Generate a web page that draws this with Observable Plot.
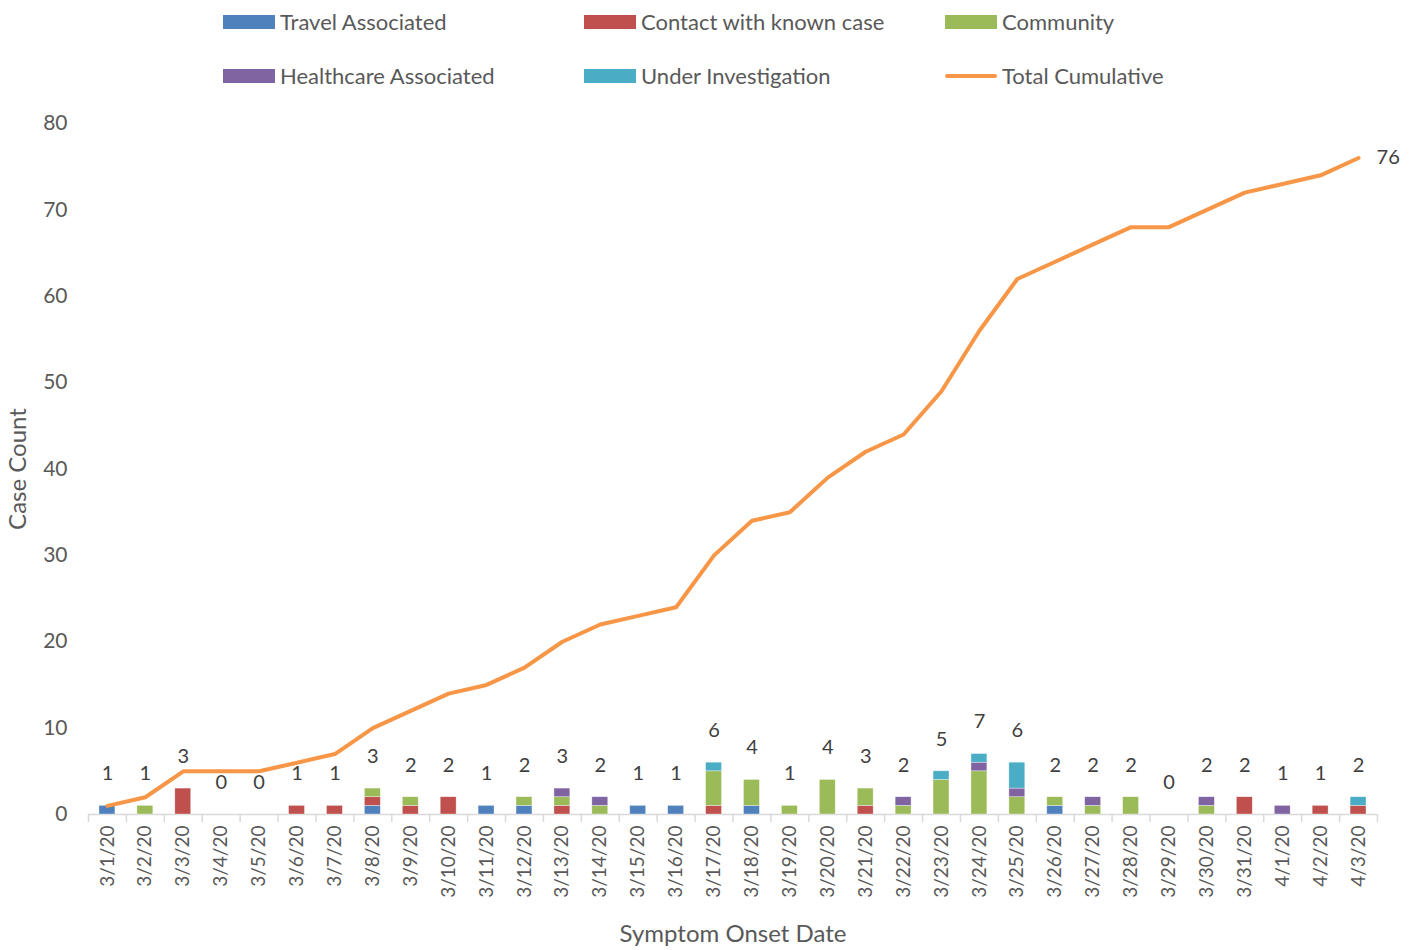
<!DOCTYPE html>
<html>
<head>
<meta charset="utf-8">
<script src="https://cdn.jsdelivr.net/npm/d3@7"></script>
<script src="https://cdn.jsdelivr.net/npm/@observablehq/plot@0.6"></script>
<style>
  body { margin: 0; background: #fff; font-family: Lato, "Open Sans", sans-serif; }
  #wrap { position: relative; width: 1417px; height: 950px; }
  #legend { position: relative; height: 100px; width: 1417px; }
  .item { position: absolute; display: flex; align-items: center; font-size: 22px; color: #595959; white-space: nowrap; }
  .sw { width: 52px; height: 14px; margin-right: 5px; }
  .ln { width: 52px; height: 4px; margin-right: 5px; border-radius: 2px; }
</style>
</head>
<body>
<div id="wrap">
  <div id="legend"></div>
  <div id="chart"></div>
</div>
<script>
const dates = ["3/1/20","3/2/20","3/3/20","3/4/20","3/5/20","3/6/20","3/7/20","3/8/20","3/9/20","3/10/20",
  "3/11/20","3/12/20","3/13/20","3/14/20","3/15/20","3/16/20","3/17/20","3/18/20","3/19/20","3/20/20",
  "3/21/20","3/22/20","3/23/20","3/24/20","3/25/20","3/26/20","3/27/20","3/28/20","3/29/20","3/30/20",
  "3/31/20","4/1/20","4/2/20","4/3/20"];
const travel     = [1,0,0,0,0,0,0,1,0,0, 1,1,0,0,1,1,0,1,0,0, 0,0,0,0,0,1,0,0,0,0, 0,0,0,0];
const contact    = [0,0,3,0,0,1,1,1,1,2, 0,0,1,0,0,0,1,0,0,0, 1,0,0,0,0,0,0,0,0,0, 2,0,1,1];
const community  = [0,1,0,0,0,0,0,1,1,0, 0,1,1,1,0,0,4,3,1,4, 2,1,4,5,2,1,1,2,0,1, 0,0,0,0];
const healthcare = [0,0,0,0,0,0,0,0,0,0, 0,0,1,1,0,0,0,0,0,0, 0,1,0,1,1,0,1,0,0,1, 0,1,0,0];
const underInv   = [0,0,0,0,0,0,0,0,0,0, 0,0,0,0,0,0,1,0,0,0, 0,0,1,1,3,0,0,0,0,0, 0,0,0,1];
const cumulative = [1,2,5,5,5,6,7,10,12,14, 15,17,20,22,23,24,30,34,35,39, 42,44,49,56,62,64,66,68,68,70, 72,73,74,76];
const seriesNames = ["Travel Associated","Contact with known case","Community","Healthcare Associated","Under Investigation"];
const seriesColors = ["#4F81BD","#C0504D","#9BBB59","#8064A2","#4BACC6"];
const lineName = "Total Cumulative";
const lineColor = "#F79646";
const yTicks = [0,10,20,30,40,50,60,70,80];

const seriesArrays = [travel, contact, community, healthcare, underInv];
const rows = [];
dates.forEach((d, i) => seriesArrays.forEach((arr, s) => {
  if (arr[i] > 0) rows.push({date: d, series: seriesNames[s], value: arr[i]});
}));
const totals = dates.map((d, i) => ({date: d, total: seriesArrays.reduce((a, arr) => a + arr[i], 0)}));
const cum = dates.map((d, i) => ({date: d, value: cumulative[i]}));

// legend
const legend = document.getElementById("legend");
const legendItems = [
  {name: seriesNames[0], color: seriesColors[0], left: 223, top: 8},
  {name: seriesNames[1], color: seriesColors[1], left: 584, top: 8},
  {name: seriesNames[2], color: seriesColors[2], left: 945, top: 8},
  {name: seriesNames[3], color: seriesColors[3], left: 223, top: 62},
  {name: seriesNames[4], color: seriesColors[4], left: 584, top: 62},
  {name: lineName, color: lineColor, left: 945, top: 62, line: true}
];
legendItems.forEach(it => {
  const el = document.createElement("div");
  el.className = "item";
  el.style.left = it.left + "px";
  el.style.top = it.top + "px";
  el.innerHTML = `<div class="${it.line ? "ln" : "sw"}" style="background:${it.color}"></div><span>${it.name}</span>`;
  legend.appendChild(el);
});

const W = 1417, H = 850, mL = 88, mR = 40, mT = 23, mB = 136;
const step = (W - mL - mR) / dates.length;

const chart = Plot.plot({
  width: W, height: H,
  marginTop: mT, marginBottom: mB, marginLeft: mL, marginRight: mR,
  style: {fontFamily: "Lato, 'Open Sans', sans-serif", color: "#595959", background: "#fff"},
  x: {domain: dates, paddingInner: 0.58, paddingOuter: 0.29, label: null},
  y: {domain: [0, 80], label: null},
  color: {domain: seriesNames, range: seriesColors},
  marks: [
    Plot.axisY({ticks: yTicks, tickSize: 0, tickPadding: 21, fontSize: 21, label: null}),
    Plot.axisX({tickSize: 0, tickRotate: -90, tickPadding: 11, fontSize: 19, label: null}),
    Plot.axisX({tickSize: 8, tickFormat: () => "", dx: -step / 2, stroke: "#d9d9d9", strokeWidth: 1.5, label: null}),
    Plot.axisX({ticks: [dates[dates.length - 1]], tickSize: 8, tickFormat: () => "", dx: step / 2, stroke: "#d9d9d9", strokeWidth: 1.5, label: null}),
    Plot.ruleY([0], {stroke: "#d9d9d9", strokeWidth: 1.5}),
    Plot.barY(rows, {x: "date", y: "value", fill: "series", order: seriesNames, stroke: "#ffffff", strokeWidth: 0.6, strokeOpacity: 0.6}),
    Plot.line(cum, {x: "date", y: "value", stroke: lineColor, strokeWidth: 4, strokeLinejoin: "round", strokeLinecap: "round"}),
    Plot.text(totals, {x: "date", y: "total", text: d => String(d.total), dy: -32, fontSize: 20, fill: "#404040"}),
    Plot.text([cum[cum.length - 1]], {x: "date", y: "value", text: d => String(d.value), dx: 18, textAnchor: "start", fontSize: 20, fill: "#404040"}),
    Plot.text(["Symptom Onset Date"], {frameAnchor: "bottom", dy: 127, fontSize: 24, fill: "#595959"}),
    Plot.text(["Case Count"], {frameAnchor: "left", dx: -70, textAnchor: "middle", rotate: -90, fontSize: 24, fill: "#595959"})
  ]
});
document.getElementById("chart").appendChild(chart);
</script>
</body>
</html>
